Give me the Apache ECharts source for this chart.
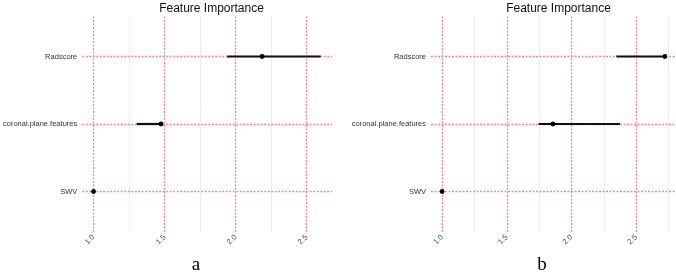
<!DOCTYPE html>
<html>
<head>
<meta charset="utf-8">
<script src="https://cdn.jsdelivr.net/npm/echarts@6/dist/echarts.min.js"></script>
<style>
  html, body { margin: 0; padding: 0; background: #fff; }
  #main { width: 676px; height: 273px; }
</style>
</head>
<body>
<div id="main"></div>
<script>
  var features = ['SWV', 'coronal.plane.features', 'Radscore'];
  var xTicks = [1.0, 1.5, 2.0, 2.5];
  var minorA = [1.25, 1.75, 2.25];
  var minorB = [1.25, 1.75, 2.25, 2.75];

  // panel a
  var impA = [1.0, 1.474, 2.186];
  var lowA = [1.0, 1.303, 1.94];
  var highA = [1.0, 1.49, 2.598];

  // panel b
  var impB = [1.0, 1.857, 2.722];
  var lowB = [1.0, 1.746, 2.347];
  var highB = [1.0, 2.375, 2.722];

  var myChart = echarts.init(document.getElementById('main'));

  var red = '#ff8585';
  var font = 'Liberation Sans, Arial, sans-serif';

  // ggplot style 5% expansion
  function expand(low, high) {
    var lo = Math.min.apply(null, low), hi = Math.max.apply(null, high);
    var d = (hi - lo) * 0.05;
    return [lo - d, hi + d];
  }

  function gridLines(minor) {
    var arr = [];
    minor.forEach(function (v) {
      arr.push({xAxis: v, lineStyle: {color: '#ededed', type: 'solid', width: 1}});
    });
    xTicks.forEach(function (v) {
      arr.push({xAxis: v, lineStyle: {color: red, type: [2, 1.5], width: 1.3}});
    });
    features.forEach(function (f, i) {
      arr.push({yAxis: i + 1, lineStyle: {color: red, type: [2, 1.5], width: 1.3}});
    });
    return arr;
  }

  function barData(imp, low, high) {
    return features.map(function (f, i) {
      return [i + 1, low[i], high[i], imp[i]];
    });
  }

  function renderBar(params, api) {
    var y = api.value(0);
    var p1 = api.coord([api.value(1), y]);
    var p2 = api.coord([api.value(2), y]);
    var pt = api.coord([api.value(3), y]);
    return {
      type: 'group',
      children: [
        {type: 'line', shape: {x1: p1[0], y1: p1[1], x2: p2[0], y2: p2[1]},
          style: {stroke: '#111', lineWidth: 2.2}},
        {type: 'circle', shape: {cx: pt[0], cy: pt[1], r: 2.4},
          style: {fill: '#000'}}
      ]
    };
  }

  function xAxisOf(idx, ext) {
    return {
      type: 'value', gridIndex: idx, min: ext[0], max: ext[1],
      axisLine: {show: false}, axisTick: {show: false}, splitLine: {show: false},
      axisLabel: {
        customValues: xTicks, rotate: 45, fontSize: 7.5, color: '#4d4d4d',
        fontFamily: font, margin: 4,
        formatter: function (v) { return v.toFixed(1); }
      }
    };
  }

  function yAxisOf(idx) {
    return {
      type: 'value', gridIndex: idx, min: 0.4, max: 3.6,
      axisLine: {show: false}, axisTick: {show: false}, splitLine: {show: false},
      axisLabel: {
        customValues: [1, 2, 3], fontSize: 7.5, color: '#333', fontFamily: font, margin: 5,
        formatter: function (v) { return features[Math.round(v) - 1]; }
      }
    };
  }

  var extA = expand(lowA, highA);
  var extB = expand(lowB, highB);

  myChart.setOption({
    animation: false,
    title: [
      {text: 'Feature Importance', left: 206.5, top: -2, textAlign: 'center',
        textStyle: {fontSize: 12, fontWeight: 'normal', color: '#111', fontFamily: font}},
      {text: 'Feature Importance', left: 553.5, top: -2, textAlign: 'center',
        textStyle: {fontSize: 12, fontWeight: 'normal', color: '#111', fontFamily: font}},
      {text: 'a', left: 191, top: 251, textAlign: 'center',
        textStyle: {fontSize: 19, fontWeight: 'normal', color: '#000', fontFamily: 'Liberation Serif, serif'}},
      {text: 'b', left: 537, top: 251, textAlign: 'center',
        textStyle: {fontSize: 19, fontWeight: 'normal', color: '#000', fontFamily: 'Liberation Serif, serif'}}
    ],
    grid: [
      {left: 81, right: 344, top: 16, bottom: 41},
      {left: 431, right: 0, top: 16, bottom: 41}
    ],
    xAxis: [xAxisOf(0, extA), xAxisOf(1, extB)],
    yAxis: [yAxisOf(0), yAxisOf(1)],
    series: [
      {type: 'line', xAxisIndex: 0, yAxisIndex: 0, data: [], z: 1,
        markLine: {silent: true, symbol: ['none', 'none'], label: {show: false}, data: gridLines(minorA)}},
      {type: 'line', xAxisIndex: 1, yAxisIndex: 1, data: [], z: 1,
        markLine: {silent: true, symbol: ['none', 'none'], label: {show: false}, data: gridLines(minorB)}},
      {type: 'custom', xAxisIndex: 0, yAxisIndex: 0, z: 5, renderItem: renderBar,
        encode: {x: [1, 2, 3], y: 0}, data: barData(impA, lowA, highA)},
      {type: 'custom', xAxisIndex: 1, yAxisIndex: 1, z: 5, renderItem: renderBar,
        encode: {x: [1, 2, 3], y: 0}, data: barData(impB, lowB, highB)}
    ]
  });
</script>
</body>
</html>
